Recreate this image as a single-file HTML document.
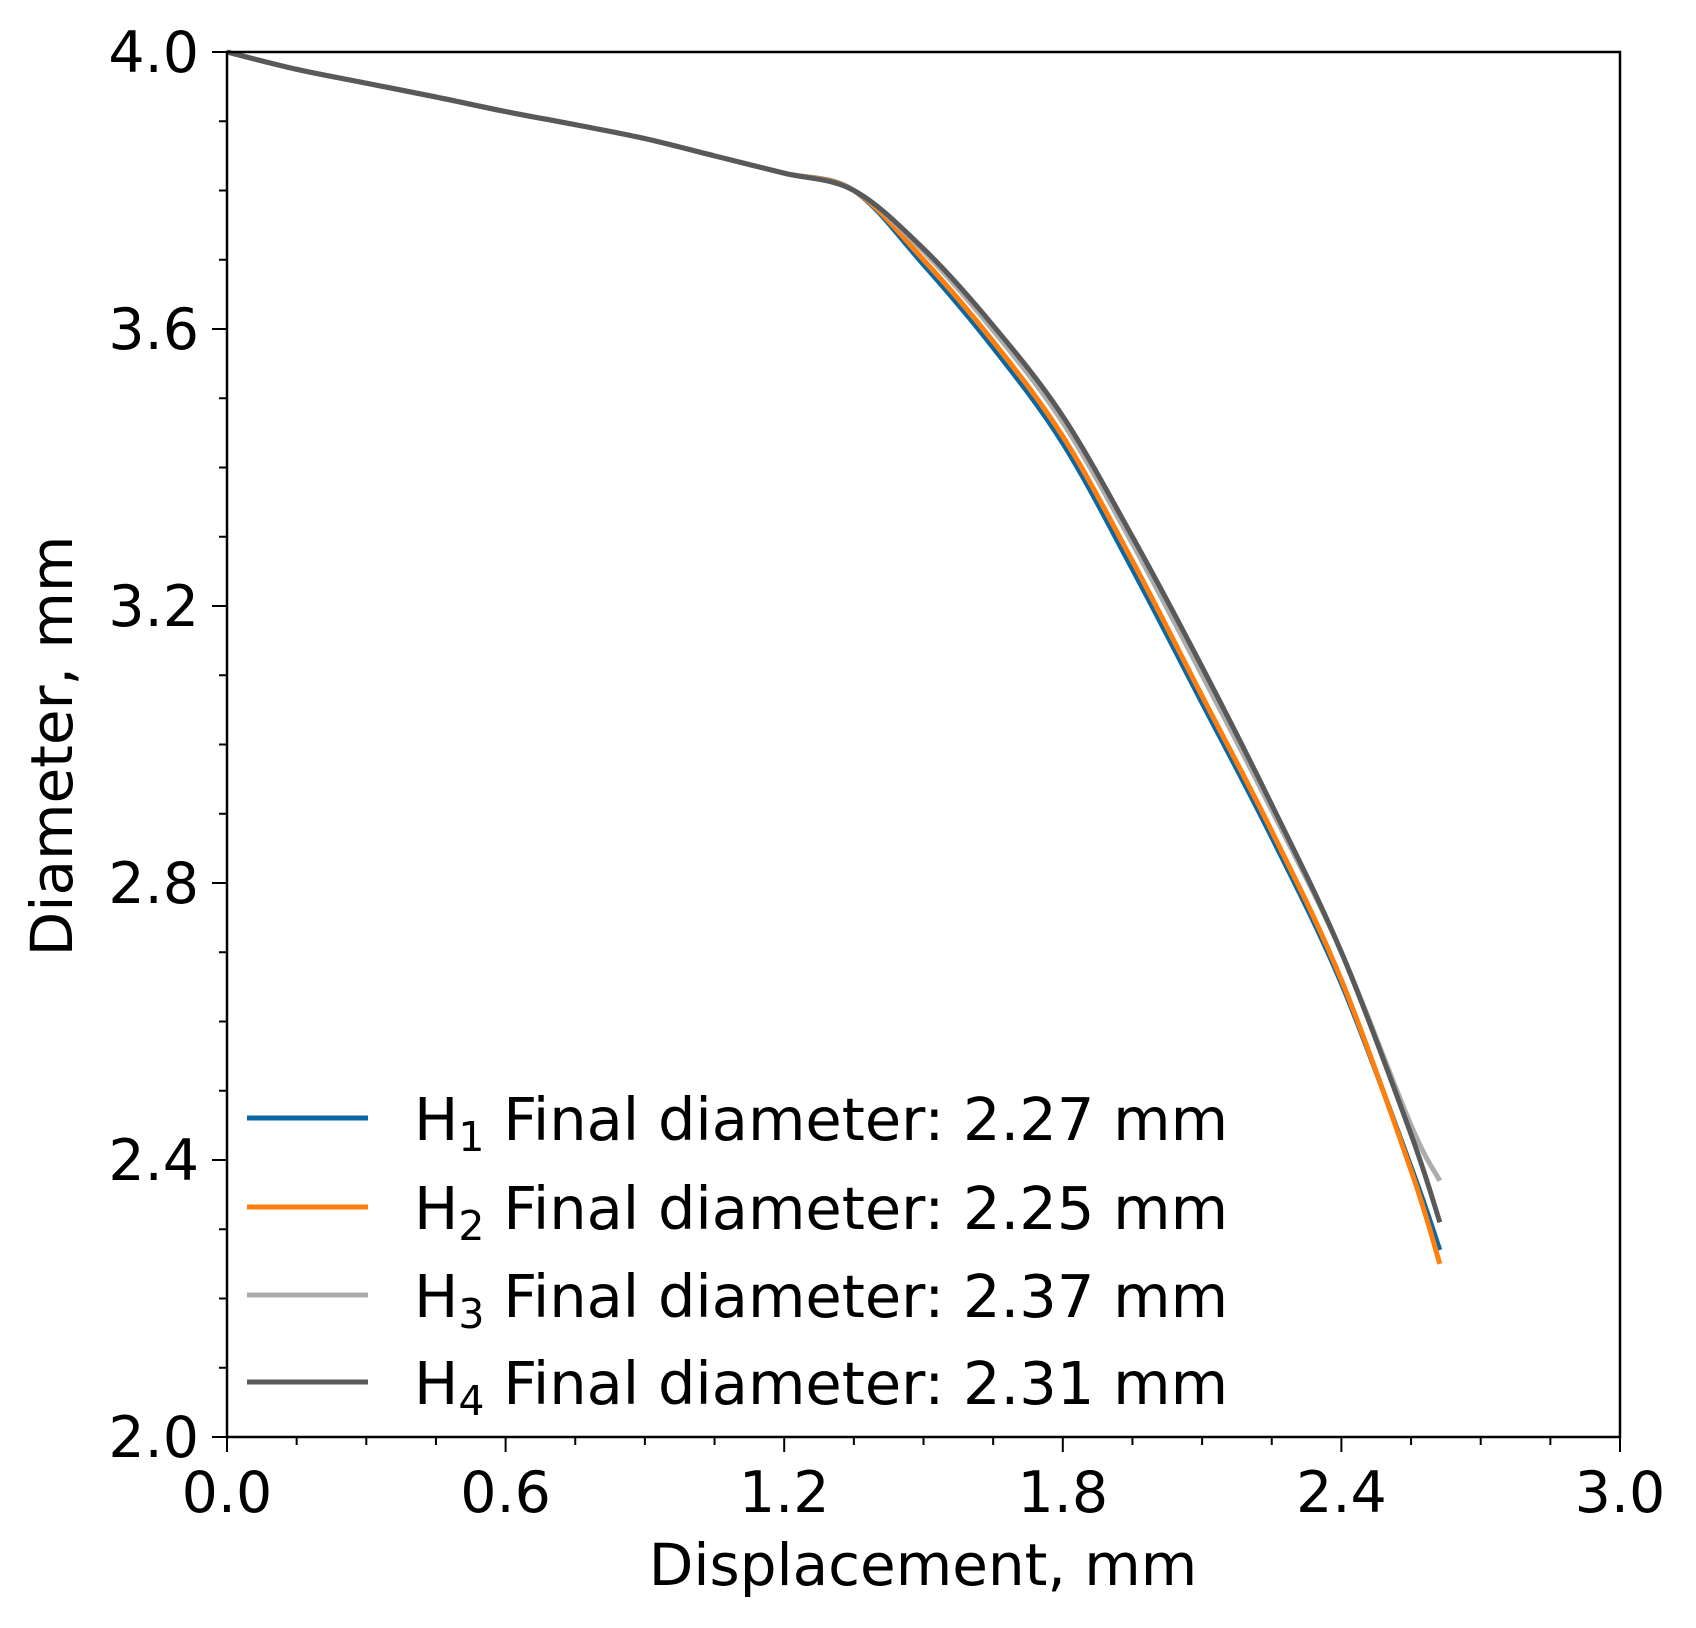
<!DOCTYPE html>
<html><head><meta charset="utf-8"><style>
html,body{margin:0;padding:0;background:#fff;}
svg{display:block;font-family:"DejaVu Sans","Liberation Sans",sans-serif;}
</style></head><body>
<svg id="chart" width="1696" height="1628" viewBox="0 0 1696 1628">
<g id="plot"></g>
<g id="axes"></g>
<g id="legend"></g>
<text x="923" y="1585" font-size="58" text-anchor="middle">Displacement, mm</text>
<text transform="translate(72,746) rotate(-90)" font-size="58" text-anchor="middle">Diameter, mm</text>
</svg>
<script>
const xVals=[0,0.15,0.3,0.45,0.6,0.75,0.9,1.05,1.2,1.35,1.5,1.65,1.8,1.95,2.1,2.25,2.4,2.55,2.612];
const h1=[4.0,3.975,3.955,3.935,3.914,3.895,3.875,3.85,3.825,3.800,3.693,3.573,3.435,3.253,3.06,2.866,2.655,2.39,2.27];
const h2=[4.0,3.975,3.955,3.935,3.914,3.895,3.875,3.85,3.825,3.800,3.700,3.582,3.445,3.265,3.07,2.875,2.66,2.385,2.25];
const h3=[4.0,3.975,3.955,3.935,3.914,3.895,3.875,3.85,3.825,3.800,3.712,3.598,3.465,3.29,3.10,2.905,2.70,2.45,2.37];
const h4=[4.0,3.975,3.955,3.935,3.914,3.895,3.875,3.85,3.825,3.800,3.716,3.605,3.474,3.30,3.112,2.913,2.70,2.437,2.31];
const seriesNames=["H1","H2","H3","H4"];
const seriesFinal=["2.27","2.25","2.37","2.31"];
const seriesColors=["#0a67a3","#ff7f0e","#acacac","#595959"];
const xTicks=[0,0.6,1.2,1.8,2.4,3.0];
const yTicks=[2.0,2.4,2.8,3.2,3.6,4.0];
const NS="http://www.w3.org/2000/svg";
const X0=227,X1=1620,Y0=1437,Y1=52;
function sx(v){return X0+(v-0)/(3-0)*(X1-X0);}
function sy(v){return Y0-(v-2)/(4-2)*(Y0-Y1);}
function mk(tag,attrs,parent){const e=document.createElementNS(NS,tag);for(const k in attrs)e.setAttribute(k,attrs[k]);parent.appendChild(e);return e;}
const plot=document.getElementById('plot'),axes=document.getElementById('axes'),legend=document.getElementById('legend');
function pathFor(ys){
  const p=xVals.map((x,i)=>[sx(x),sy(ys[i])]);
  let d="M"+p[0][0]+","+p[0][1];
  for(let i=0;i<p.length-1;i++){
    const a=p[Math.max(0,i-1)],b=p[i],c=p[i+1],e=p[Math.min(p.length-1,i+2)];
    const c1=[b[0]+(c[0]-a[0])/6,b[1]+(c[1]-a[1])/6],c2=[c[0]-(e[0]-b[0])/6,c[1]-(e[1]-b[1])/6];
    d+=" C"+c1[0]+","+c1[1]+" "+c2[0]+","+c2[1]+" "+c[0]+","+c[1];
  }
  return d;
}
[h1,h2,h3,h4].forEach((ys,i)=>{
  const el=mk('path',{d:pathFor(ys),fill:'none',stroke:seriesColors[i],'stroke-width':5},plot);
  
  
});
const frame=mk('rect',{x:X0,y:Y1,width:X1-X0,height:Y0-Y1,fill:'none',stroke:'#000','stroke-width':2.5},axes);


for(let k=0;k<=20;k++){const v=k*0.15;const major=k%4===0;
  mk('line',{x1:sx(v),x2:sx(v),y1:Y0,y2:Y0+(major?15:8),stroke:'#000','stroke-width':2},axes);}
for(let k=0;k<=20;k++){const v=2+k*0.1;const major=k%4===0;
  mk('line',{x1:X0,x2:X0-(major?15:8),y1:sy(v),y2:sy(v),stroke:'#000','stroke-width':2},axes);}
xTicks.forEach(v=>{const t=mk('text',{x:sx(v),y:1512,'font-size':57,'text-anchor':'middle'},axes);t.textContent=v.toFixed(1);
  
  });
yTicks.forEach(v=>{const t=mk('text',{x:199,y:sy(v)+20,'font-size':57,'text-anchor':'end'},axes);t.textContent=v.toFixed(1);
  
  });
const ly=[1118,1207,1295,1382];
seriesNames.forEach((n,i)=>{
  const g=mk('g',{},legend);
  
  
  mk('line',{x1:247,x2:368,y1:ly[i],y2:ly[i],stroke:seriesColors[i],'stroke-width':5},g);
  const t=mk('text',{x:414,y:ly[i]+22,'font-size':59},g);
  t.innerHTML='H<tspan font-size="41" dy="11">'+(i+1)+'</tspan><tspan dy="-11"> Final diameter: '+seriesFinal[i]+' mm</tspan>';
});
</script>
</body></html>
